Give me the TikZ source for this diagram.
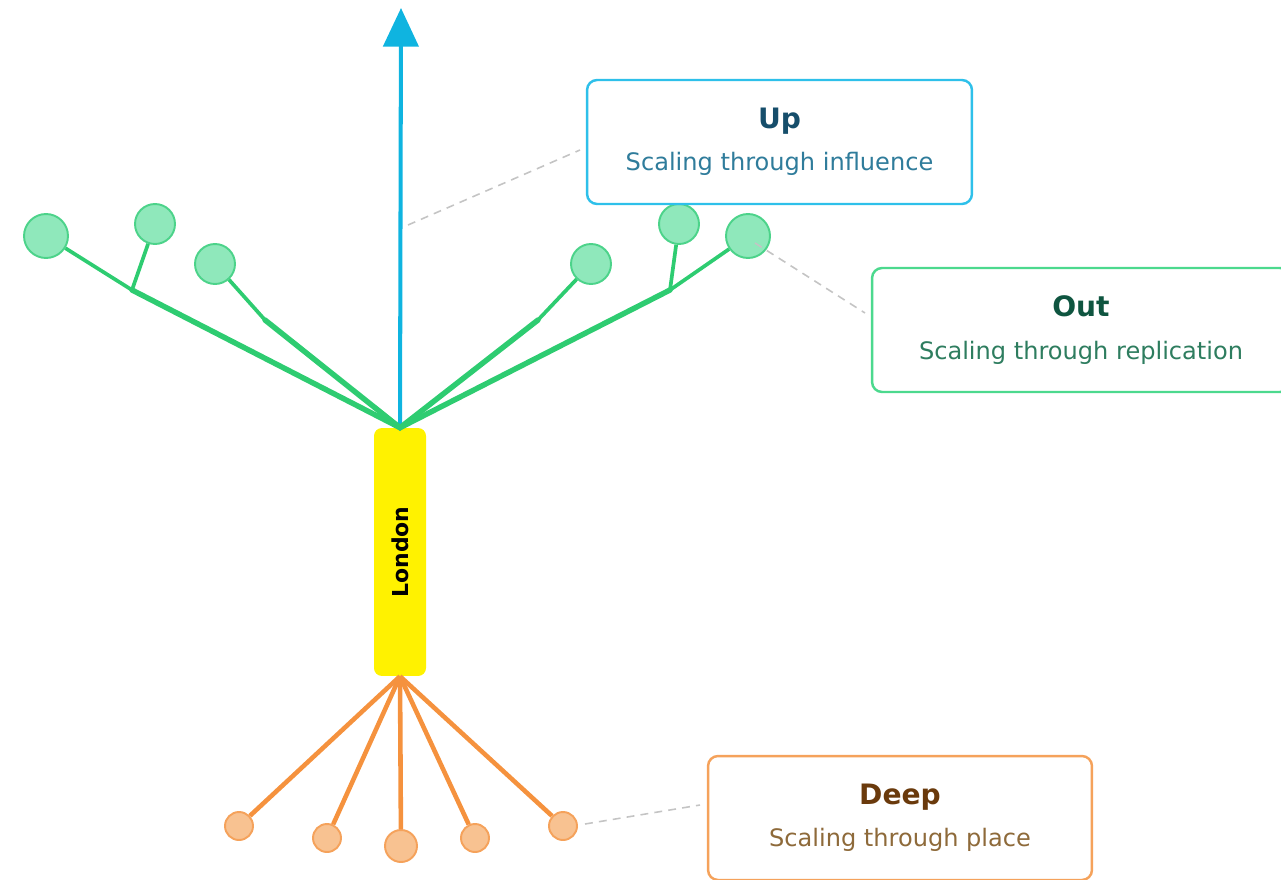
\documentclass[tikz,border=0pt]{standalone}
\usepackage{graphicx}
\usepackage{fontspec}
\setmainfont{DejaVu Sans}
\usetikzlibrary{arrows.meta,positioning}

\definecolor{upblue}{HTML}{0FB4E0}
\definecolor{upframe}{HTML}{2EC0EA}
\definecolor{uptitle}{HTML}{164E6B}
\definecolor{uptext}{HTML}{2F7C9B}
\definecolor{outgreen}{HTML}{2ECC71}
\definecolor{outframe}{HTML}{4CD98E}
\definecolor{leaffill}{HTML}{8FE8BB}
\definecolor{leafline}{HTML}{4CD38A}
\definecolor{outtitle}{HTML}{0F5540}
\definecolor{outtext}{HTML}{2E7D5F}
\definecolor{deeporange}{HTML}{F5923E}
\definecolor{deepframe}{HTML}{F5A25B}
\definecolor{rootfill}{HTML}{F8C291}
\definecolor{deeptitle}{HTML}{6A3A0C}
\definecolor{deeptext}{HTML}{8E6A3A}
\definecolor{cityyellow}{HTML}{FFF200}
\definecolor{calloutgray}{HTML}{C4C4C4}

\begin{document}
\begin{tikzpicture}[x=0.02cm,y=-0.02cm,
	city/.style={rectangle, rounded corners=4.5pt, fill=cityyellow, minimum width=1.04cm, minimum height=4.96cm, inner sep=0pt, font=\fontsize{12.5}{14}\selectfont\bfseries},
	leaf/.style={circle, draw=leafline, fill=leaffill, line width=1.1pt, minimum size=0.8cm, inner sep=0pt},
	bigleaf/.style={leaf, minimum size=0.88cm},
	rootlet/.style={circle, draw=deepframe, fill=rootfill, line width=1.1pt, minimum size=0.56cm, inner sep=0pt},
	stem/.style={draw=outgreen, line width=3.1pt, line cap=round},
	twig/.style={draw=outgreen, line width=2.1pt},
	rootline/.style={draw=deeporange, line width=2.6pt},
	callout/.style={draw=calloutgray, line width=0.9pt, dash pattern=on 4.5pt off 3.5pt},
	infobox/.style={rectangle, rounded corners=5.7pt, draw=#1, line width=1.4pt, fill=white, minimum width=7.7cm, minimum height=2.48cm, align=center, font=\fontsize{13.7}{24}\selectfont}]
	\useasboundingbox (0,0) rectangle (1281,879);
	\clip (0,0) rectangle (1281,879);
	
	\node[city] (london) at (400,552) {\rotatebox{90}{London}};
	
	% up
	\coordinate (sky) at (401,8);
	\draw[upblue, line width=2.3pt, -{Triangle[width=20pt,length=22pt]}] (london.north) -- (sky);
	
	% out
	\coordinate (fl) at (132,290);
	\coordinate (ml) at (265,320);
	\coordinate (mr) at (538,320);
	\coordinate (fr) at (670,290);
	\node[bigleaf] (o1) at (46,236) {};
	\node[leaf] (o2) at (155,224) {};
	\node[leaf] (o3) at (215,264) {};
	\node[leaf] (o4) at (591,264) {};
	\node[leaf] (o5) at (679,224) {};
	\node[bigleaf] (o6) at (748,236) {};
	\draw[stem] (fl) -- (london.north) -- (fr);
	\draw[stem] (ml) -- (london.north) -- (mr);
	\path[twig]
	(fl) edge (o1)
	     edge (o2)
	(ml) edge (o3)
	(mr) edge (o4)
	(fr) edge (o5)
	     edge (o6);
	
	% deep
	\node[rootlet] (d1) at (239,826) {};
	\node[rootlet] (d2) at (327,838) {};
	\node[rootlet, minimum size=0.64cm] (d3) at (401,846) {};
	\node[rootlet] (d4) at (475,838) {};
	\node[rootlet] (d5) at (563,826) {};
	\path[rootline]
	(london.south) edge (d1)
	               edge (d2)
	               edge (d3)
	               edge (d4)
	               edge (d5);
	
	% boxes
	\node[infobox=upframe] (up) at (779.5,142) {{\fontsize{16}{19}\selectfont\bfseries\color{uptitle}Up}\\{\color{uptext}Scaling through influence}};
	\node[infobox=outframe, minimum width=8.36cm] (out) at (1081,330) {{\fontsize{16}{19}\selectfont\bfseries\color{outtitle}Out}\\{\color{outtext}Scaling through replication}};
	\node[infobox=deepframe, minimum width=7.68cm] (deep) at (900,818) {{\fontsize{16}{19}\selectfont\bfseries\color{deeptitle}Deep}\\{\color{deeptext}Scaling through place}};
	
	% callouts
	\coordinate (upfrom) at (408,225);
	\coordinate (upto) at (580,150);
	\coordinate (outfrom) at (755,243);
	\coordinate (outto) at (865,313);
	\coordinate (deepfrom) at (585,824);
	\coordinate (deepto) at (700,805);
	\draw[callout] (upfrom) -- (upto);
	\draw[callout] (outfrom) -- (outto);
	\draw[callout] (deepfrom) -- (deepto);
\end{tikzpicture}
\end{document}
